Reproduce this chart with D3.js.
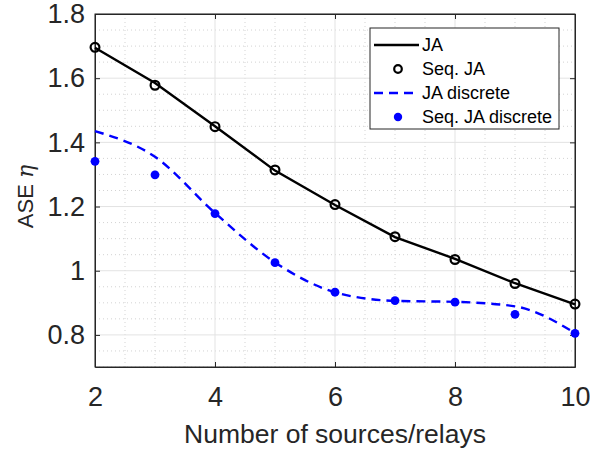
<!DOCTYPE html>
<html>
<head>
<meta charset="utf-8">
<script src="https://cdn.jsdelivr.net/npm/d3@7/dist/d3.min.js"></script>
<style>
  body { margin: 0; background: #fff; }
  svg { display: block; font-family: "Liberation Sans", Arial, sans-serif; }
</style>
</head>
<body>
<svg width="590" height="453"></svg>
<script>
// Number of sources/relays
const xValues = [2, 3, 4, 5, 6, 7, 8, 9, 10];
// ASE values
const jaLine = [1.695, 1.585, 1.45, 1.312, 1.205, 1.105, 1.037, 0.961, 0.895];
const seqJa = [1.696, 1.578, 1.449, 1.314, 1.206, 1.106, 1.035, 0.960, 0.896];
const jaDiscrete = [1.435, 1.355, 1.18, 1.026, 0.933, 0.906, 0.903, 0.889, 0.806];
const seqJaDiscrete = [1.341, 1.299, 1.178, 1.025, 0.933, 0.907, 0.902, 0.864, 0.805];

const xTicks = [2, 4, 6, 8, 10];
const yTicks = [0.8, 1, 1.2, 1.4, 1.6, 1.8];
const legendLabels = ["JA", "Seq. JA", "JA discrete", "Seq. JA discrete"];

const svg = d3.select("svg");
const margin = {top: 14, right: 15, bottom: 86, left: 95};
const width = 590 - margin.left - margin.right;
const height = 453 - margin.top - margin.bottom;
const textColor = "#262626";

const g = svg.append("g").attr("transform", `translate(${margin.left},${margin.top})`);

const x = d3.scaleLinear().domain([2, 10]).range([0, width]);
const y = d3.scaleLinear().domain([0.7, 1.8]).range([height, 0]);

// minor grid (dotted)
const xMinor = d3.range(2, 10.001, 0.5).filter(v => !xTicks.includes(v));
const yMinor = d3.range(0.7, 1.8001, 0.05).map(v => +v.toFixed(2)).filter(v => !yTicks.includes(v));

g.append("g").selectAll("line").data(xMinor).join("line")
  .attr("x1", d => x(d)).attr("x2", d => x(d))
  .attr("y1", 0).attr("y2", height)
  .attr("stroke", "#c8c8c8").attr("stroke-width", 0.8).attr("stroke-dasharray", "1,3");
g.append("g").selectAll("line").data(yMinor).join("line")
  .attr("y1", d => y(d)).attr("y2", d => y(d))
  .attr("x1", 0).attr("x2", width)
  .attr("stroke", "#c8c8c8").attr("stroke-width", 0.8).attr("stroke-dasharray", "1,3");

// major grid
g.append("g").selectAll("line").data(xTicks).join("line")
  .attr("x1", d => x(d)).attr("x2", d => x(d))
  .attr("y1", 0).attr("y2", height)
  .attr("stroke", "#e3e3e3").attr("stroke-width", 1);
g.append("g").selectAll("line").data(yTicks).join("line")
  .attr("y1", d => y(d)).attr("y2", d => y(d))
  .attr("x1", 0).attr("x2", width)
  .attr("stroke", "#e3e3e3").attr("stroke-width", 1);

// axes with inward ticks
const xAxis = g.append("g").attr("transform", `translate(0,${height})`)
  .call(d3.axisBottom(x).tickValues(xTicks).tickSizeInner(-5).tickSizeOuter(0).tickPadding(20));
const yAxis = g.append("g")
  .call(d3.axisLeft(y).tickValues(yTicks).tickFormat(d3.format("~g")).tickSizeInner(-5).tickSizeOuter(0).tickPadding(10));
g.append("g").call(d3.axisTop(x).tickValues(xTicks).tickSizeInner(-5).tickSizeOuter(0).tickFormat(""));
g.append("g").attr("transform", `translate(${width},0)`)
  .call(d3.axisRight(y).tickValues(yTicks).tickSizeInner(-5).tickSizeOuter(0).tickFormat(""));

g.selectAll(".domain").attr("stroke", textColor).attr("stroke-width", 1);
g.selectAll(".tick line").attr("stroke", textColor);
[xAxis, yAxis].forEach(a => a.selectAll("text")
  .attr("fill", textColor).style("font-size", "27px")
  .style("font-family", "'Liberation Sans', Arial, sans-serif"));

// box border
g.append("rect").attr("width", width).attr("height", height)
  .attr("fill", "none").attr("stroke", textColor).attr("stroke-width", 1);

const black = xValues.map((v, i) => ({x: v, y: jaLine[i]}));
const blue = xValues.map((v, i) => ({x: v, y: jaDiscrete[i]}));

g.append("path").datum(black)
  .attr("d", d3.line().x(d => x(d.x)).y(d => y(d.y)))
  .attr("fill", "none").attr("stroke", "#000").attr("stroke-width", 2.4);

g.append("path").datum(blue)
  .attr("d", d3.line().x(d => x(d.x)).y(d => y(d.y)).curve(d3.curveMonotoneX))
  .attr("fill", "none").attr("stroke", "#0000ff").attr("stroke-width", 2.4)
  .attr("stroke-dasharray", "9,6");

g.append("g").selectAll("circle").data(xValues).join("circle")
  .attr("cx", d => x(d)).attr("cy", (d, i) => y(seqJa[i])).attr("r", 4.4)
  .attr("fill", "none").attr("stroke", "#000").attr("stroke-width", 2.2);

g.append("g").selectAll("circle").data(xValues).join("circle")
  .attr("cx", d => x(d)).attr("cy", (d, i) => y(seqJaDiscrete[i])).attr("r", 4.4)
  .attr("fill", "#0000ff");

// axis titles
svg.append("text")
  .attr("x", margin.left + width / 2).attr("y", 443)
  .attr("text-anchor", "middle").attr("fill", textColor)
  .style("font-size", "26.5px").text("Number of sources/relays");

const yTitle = svg.append("text")
  .attr("transform", `translate(33,${margin.top + height / 2 + 6}) rotate(-90)`)
  .attr("text-anchor", "middle").attr("fill", textColor)
  .style("font-size", "22px");
yTitle.append("tspan").text("ASE ");
yTitle.append("tspan").style("font-family", "'DejaVu Serif', serif").style("font-style", "italic").text("η");

// legend
const lg = svg.append("g").attr("transform", "translate(370,28)");
lg.append("rect").attr("width", 189).attr("height", 101)
  .attr("fill", "#fff").attr("stroke", textColor).attr("stroke-width", 1);
const rowY = [17, 41, 65, 89];
lg.append("line").attr("x1", 4).attr("x2", 49).attr("y1", rowY[0]).attr("y2", rowY[0])
  .attr("stroke", "#000").attr("stroke-width", 2.4);
lg.append("circle").attr("cx", 28).attr("cy", rowY[1]).attr("r", 3.8)
  .attr("fill", "none").attr("stroke", "#000").attr("stroke-width", 2.2);
lg.append("line").attr("x1", 4).attr("x2", 49).attr("y1", rowY[2]).attr("y2", rowY[2])
  .attr("stroke", "#0000ff").attr("stroke-width", 2.4).attr("stroke-dasharray", "9,6");
lg.append("circle").attr("cx", 28).attr("cy", rowY[3]).attr("r", 4.2).attr("fill", "#0000ff");
lg.selectAll("text.lbl").data(legendLabels).join("text")
  .attr("class", "lbl")
  .attr("x", 52).attr("y", (d, i) => rowY[i]).attr("dy", "0.35em")
  .attr("fill", "#000").style("font-size", "18px").text(d => d);
</script>
</body>
</html>
